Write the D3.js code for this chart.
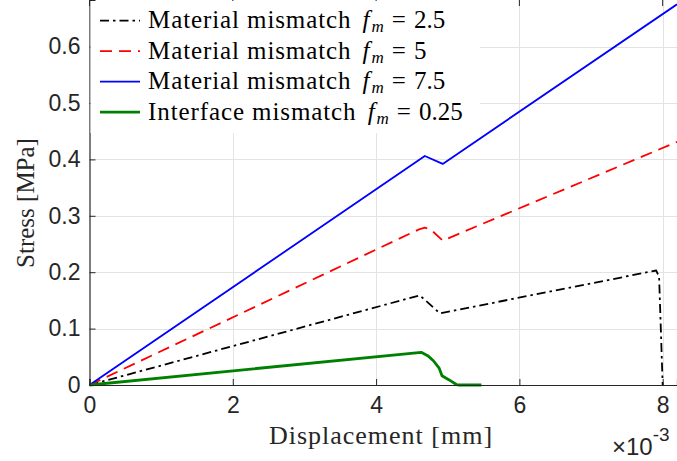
<!DOCTYPE html>
<html><head><meta charset="utf-8">
<script src="https://cdn.jsdelivr.net/npm/d3@7"></script>
<style>body{margin:0;background:#fff;} svg{display:block;}</style>
</head><body>
<svg id="c" width="677" height="461"></svg>
<script>
// Data (x in mm, y in MPa)
const seriesNames = ["Material mismatch", "Material mismatch", "Material mismatch", "Interface mismatch"];
const fmValues = ["2.5", "5", "7.5", "0.25"];
const xTicks = [0, 0.002, 0.004, 0.006, 0.008];
const yTicks = [0, 0.1, 0.2, 0.3, 0.4, 0.5, 0.6];
const fm25X = [0, 0.00461, 0.00489, 0.00791, 0.00795, 0.0080];
const fm25Y = [0, 0.159, 0.127, 0.203, 0.192, 0];
const fm5X = [0, 0.00460, 0.00468, 0.00476, 0.00493, 0.0082];
const fm5Y = [0, 0.276, 0.279, 0.276, 0.256, 0.431];
const fm75X = [0, 0.00468, 0.00493, 0.0082];
const fm75Y = [0, 0.406, 0.392, 0.675];
const ifX = [0, 0.00463, 0.00472, 0.00480, 0.00488, 0.00492, 0.00502, 0.00512, 0.00516, 0.00547];
const ifY = [0, 0.058, 0.052, 0.043, 0.030, 0.0164, 0.009, 0.0008, 0, 0];

const svg = d3.select("#c");
const L = 89.5, T = 0, R = 677, B = 385;
const x = d3.scaleLinear().domain([0, 0.0082]).range([L, R]);
const y = d3.scaleLinear().domain([0, 0.6826]).range([B, T]);

// grid
const g = svg.append("g");
g.selectAll(".vg").data(xTicks.slice(1)).enter().append("line")
  .attr("x1", d => Math.round(x(d)) + 0.5).attr("x2", d => Math.round(x(d)) + 0.5)
  .attr("y1", T).attr("y2", B).attr("stroke", "#e3e3e3").attr("stroke-width", 1);
g.selectAll(".hg").data(yTicks.slice(1)).enter().append("line")
  .attr("y1", d => Math.round(y(d)) + 0.5).attr("y2", d => Math.round(y(d)) + 0.5)
  .attr("x1", L).attr("x2", R).attr("stroke", "#e3e3e3").attr("stroke-width", 1);

// lines
const mk = (xs, ys) => xs.map((v, i) => [v, ys[i]]);
const line = d3.line().x(d => x(d[0])).y(d => y(d[1]));
const series = [
  {d: mk(fm25X, fm25Y), c: "#000000", w: 1.8, dash: "9,4,2.5,4"},
  {d: mk(fm5X, fm5Y), c: "#ff0000", w: 1.8, dash: "12,7"},
  {d: mk(fm75X, fm75Y), c: "#0000ff", w: 1.8, dash: null},
  {d: mk(ifX, ifY), c: "#008000", w: 2.8, dash: null}
];
const clip = svg.append("clipPath").attr("id", "cp").append("rect")
  .attr("x", L).attr("y", T - 2).attr("width", R - L + 2).attr("height", B - T + 4);
const lg = svg.append("g").attr("clip-path", "url(#cp)");
series.forEach(s => {
  lg.append("path").attr("d", line(s.d)).attr("fill", "none")
    .attr("stroke", s.c).attr("stroke-width", s.w)
    .attr("stroke-dasharray", s.dash).attr("stroke-linejoin", "round");
});

// axes
const axC = "#262626";
const sans = "'Liberation Sans', Arial, sans-serif";
const xAxis = svg.append("g").attr("transform", `translate(0,${B})`)
  .call(d3.axisBottom(x).tickValues(xTicks).tickSize(-6).tickPadding(12).tickFormat(d => d3.format("d")(Math.round(d * 1000))));
const yAxis = svg.append("g").attr("transform", `translate(${L},0)`)
  .call(d3.axisLeft(y).tickValues(yTicks).tickSize(-6).tickPadding(9).tickFormat(d => d === 0 ? "0" : d3.format(".1f")(d)));
[xAxis, yAxis].forEach(a => {
  a.select(".domain").attr("stroke", axC).attr("stroke-width", 1.2);
  a.selectAll(".tick line").attr("stroke", axC);
  a.selectAll(".tick text").attr("fill", axC).style("font-family", sans).style("font-size", "23px");
});
// top ticks
svg.selectAll(".tt").data(xTicks).enter().append("line")
  .attr("x1", d => x(d)).attr("x2", d => x(d)).attr("y1", T).attr("y2", T + 6).attr("stroke", axC);

// axis labels
const serif = "'Liberation Serif', 'Times New Roman', serif";
svg.append("text").attr("x", 381).attr("y", 444).attr("text-anchor", "middle")
  .style("font-family", serif).style("font-size", "26px").style("letter-spacing", "1px").attr("fill", axC).text("Displacement [mm]");
svg.append("text").attr("transform", "translate(34,203) rotate(-90)").attr("text-anchor", "middle")
  .style("font-family", serif).style("font-size", "25px").attr("fill", axC).text("Stress [MPa]");
// exponent
const ex = svg.append("text").attr("x", 612).attr("y", 455)
  .style("font-family", sans).style("font-size", "24px").attr("fill", axC);
ex.append("tspan").text("×10");
ex.append("tspan").attr("dy", -14).style("font-size", "19px").text("-3");

// legend
const leg = svg.append("g");
leg.append("rect").attr("x", L + 1).attr("y", T + 1).attr("width", 480 - L - 1).attr("height", 132).attr("fill", "#fff");
series.forEach((s, i) => {
  const cy = 20.7 + i * 30.5;
  leg.append("line").attr("x1", 100).attr("x2", 140).attr("y1", cy).attr("y2", cy)
    .attr("stroke", s.c).attr("stroke-width", s.w).attr("stroke-dasharray", s.dash);
  const t = leg.append("text").attr("x", 148).attr("y", cy + 7.5)
    .style("font-family", serif).style("font-size", "25px").attr("fill", "#000");
  t.append("tspan").style("letter-spacing", "0.9px").text(seriesNames[i] + " ");
  t.append("tspan").attr("dx", 4).style("font-style", "italic").text("f");
  t.append("tspan").attr("dy", 4).attr("dx", 2).style("font-style", "italic").style("font-size", "17px").text("m");
  t.append("tspan").attr("dy", -4).attr("dx", 8).text("=");
  t.append("tspan").attr("dx", 8).text(fmValues[i]);
});
</script>
</body></html>
